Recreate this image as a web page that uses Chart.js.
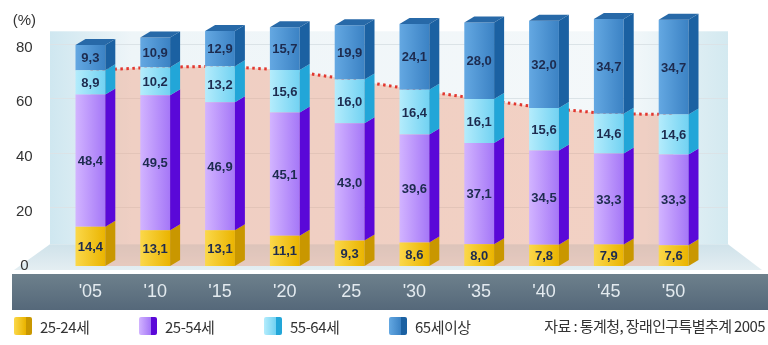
<!DOCTYPE html>
<html>
<head>
    <meta charset="utf-8">
    <title>연령별 인구 구성비 전망</title>
    <script src="https://cdn.jsdelivr.net/npm/chart.js@4.4.1/dist/chart.umd.min.js"></script>
    <style>
        body {
            margin: 0;
            background: #fff;
            font-family: "Noto Sans CJK KR", "Noto Sans", sans-serif;
        }
        .wrap {
            position: relative;
            width: 768px;
            height: 345px;
        }
        .legend-item {
            position: absolute;
            top: 315px;
            height: 22px;
            display: flex;
            align-items: center;
            font-size: 15px;
            color: #333;
            letter-spacing: -0.5px;
        }
        .legend-box {
            width: 18px;
            height: 18px;
            margin-right: 8px;
            border-radius: 2px;
        }
        .source {
            position: absolute;
            top: 315px;
            right: 3px;
            height: 22px;
            line-height: 22px;
            font-size: 15px;
            color: #333;
            letter-spacing: -0.6px;
        }
    </style>
</head>
<body>
<div class="wrap">
    <canvas id="popChart" width="768" height="345"></canvas>
    <div id="legend"></div>
    <div class="source">자료 : 통계청, 장래인구특별추계 2005</div>
</div>

<script>
    // Population share by age group (%), 2005-2050
    const years = ["'05", "'10", "'15", "'20", "'25", "'30", "'35", "'40", "'45", "'50"];
    const age1524 = [14.4, 13.1, 13.1, 11.1, 9.3, 8.6, 8.0, 7.8, 7.9, 7.6];
    const age2554 = [48.4, 49.5, 46.9, 45.1, 43.0, 39.6, 37.1, 34.5, 33.3, 33.3];
    const age5564 = [8.9, 10.2, 13.2, 15.6, 16.0, 16.4, 16.1, 15.6, 14.6, 14.6];
    const age65 = [9.3, 10.9, 12.9, 15.7, 19.9, 24.1, 28.0, 32.0, 34.7, 34.7];
    // working-age total (15-64), shown as the dotted line
    const workingAge = [71.7, 72.8, 73.2, 71.8, 68.3, 64.6, 61.2, 57.9, 55.8, 55.5];
    const yTicks = [0, 20, 40, 60, 80];
    const seriesNames = ['25-24세', '25-54세', '55-64세', '65세이상'];

    const BAR_PCT = 0.46;
    const DEPTH_X = 10;
    const DEPTH_Y = -6;

    // front (light, dark), side, top colours per series
    const palette = [
        { light: '#fbd84a', dark: '#eab400', side: '#c99700', top: '#ffe27a' },
        { light: '#d2b4ff', dark: '#a577f7', side: '#5a08d8', top: '#7a3cf0' },
        { light: '#b4ecfc', dark: '#72d2f2', side: '#22a6d8', top: '#5ccbee' },
        { light: '#64a8e2', dark: '#3b82c4', side: '#1b61a2', top: '#2769a8' }
    ];

    function frontFill(p) {
        return (c) => {
            const chart = c.chart;
            const x = chart.scales.x;
            if (!x || !chart.chartArea) return p.dark;
            const cx = x.getPixelForValue(c.dataIndex);
            const half = x.width / years.length * BAR_PCT / 2;
            const g = chart.ctx.createLinearGradient(cx - half, 0, cx + half, 0);
            g.addColorStop(0, p.light);
            g.addColorStop(1, p.dark);
            return g;
        };
    }

    // back wall, floor, grid lines and the grey axis band
    const roomPlugin = {
        id: 'room',
        beforeDraw(chart) {
            const { ctx, chartArea: a, scales } = chart;
            const y = scales.y;
            const wallL = a.left - 8, wallR = a.right + 22;
            const wallT = y.getPixelForValue(86), floorBack = y.getPixelForValue(8);
            const floorFront = a.bottom + 4;
            ctx.save();

            let g = ctx.createLinearGradient(wallL, 0, wallR, 0);
            g.addColorStop(0, '#cfe7f0');
            g.addColorStop(0.12, '#eef5f8');
            g.addColorStop(0.85, '#f4f8fa');
            g.addColorStop(1, '#d3e9f0');
            ctx.fillStyle = g;
            ctx.fillRect(wallL, wallT, wallR - wallL, floorBack - wallT);

            ctx.strokeStyle = '#dbe3e7';
            ctx.lineWidth = 1;
            yTicks.forEach(v => {
                const py = Math.round(y.getPixelForValue(v) - 4) + 0.5;
                if (py > floorBack) return;
                ctx.beginPath();
                ctx.moveTo(wallL, py);
                ctx.lineTo(wallR, py);
                ctx.stroke();
            });

            g = ctx.createLinearGradient(0, floorBack, 0, floorFront);
            g.addColorStop(0, '#cfe2ea');
            g.addColorStop(1, '#e4eef2');
            ctx.fillStyle = g;
            ctx.beginPath();
            ctx.moveTo(wallL, floorBack);
            ctx.lineTo(wallR, floorBack);
            ctx.lineTo(wallR + 34, floorFront);
            ctx.lineTo(14, floorFront);
            ctx.closePath();
            ctx.fill();

            const bandT = a.bottom + 8, bandB = a.bottom + 44;
            g = ctx.createLinearGradient(0, bandT, 0, bandB);
            g.addColorStop(0, '#6d808c');
            g.addColorStop(1, '#55687a');
            ctx.fillStyle = g;
            ctx.fillRect(12, bandT, chart.width - 12, bandB - bandT);
            ctx.restore();
        }
    };

    // side and top faces of the bars, then the value labels
    const depthPlugin = {
        id: 'depth',
        afterDatasetsDraw(chart) {
            const ctx = chart.ctx;
            const barSets = chart.data.datasets
                .map((ds, i) => ({ ds, i }))
                .filter(o => o.ds.type === 'bar');
            ctx.save();
            barSets.forEach(({ ds, i }, k) => {
                const p = palette[k];
                const meta = chart.getDatasetMeta(i);
                meta.data.forEach(bar => {
                    const { x, y, base, width } = bar.getProps(['x', 'y', 'base', 'width'], true);
                    const r = x + width / 2, l = x - width / 2;
                    ctx.fillStyle = p.side;
                    ctx.beginPath();
                    ctx.moveTo(r, y);
                    ctx.lineTo(r + DEPTH_X, y + DEPTH_Y);
                    ctx.lineTo(r + DEPTH_X, base + DEPTH_Y);
                    ctx.lineTo(r, base);
                    ctx.closePath();
                    ctx.fill();
                    if (k === barSets.length - 1) {
                        ctx.fillStyle = p.top;
                        ctx.beginPath();
                        ctx.moveTo(l, y);
                        ctx.lineTo(l + DEPTH_X, y + DEPTH_Y);
                        ctx.lineTo(r + DEPTH_X, y + DEPTH_Y);
                        ctx.lineTo(r, y);
                        ctx.closePath();
                        ctx.fill();
                    }
                });
            });

            ctx.font = 'bold 13px "Liberation Sans Narrow", "Liberation Sans", sans-serif';
            ctx.textAlign = 'center';
            ctx.textBaseline = 'middle';
            ctx.fillStyle = '#1d2b4f';
            barSets.forEach(({ ds, i }) => {
                const meta = chart.getDatasetMeta(i);
                meta.data.forEach((bar, j) => {
                    const { x, y, base } = bar.getProps(['x', 'y', 'base'], true);
                    const txt = ds.data[j].toFixed(1).replace('.', ',');
                    ctx.fillText(txt, x, (y + base) / 2 + 1);
                });
            });
            ctx.restore();
        }
    };

    const barSeries = [age1524, age2554, age5564, age65].map((data, k) => ({
        type: 'bar',
        label: seriesNames[k],
        data: data,
        stack: 'pop',
        order: 1,
        clip: false,
        backgroundColor: frontFill(palette[k]),
        borderWidth: 0,
        barPercentage: BAR_PCT,
        categoryPercentage: 1
    }));

    new Chart(document.getElementById('popChart'), {
        data: {
            labels: years,
            datasets: [
                ...barSeries,
                {
                    type: 'line',
                    label: '15-64세',
                    data: workingAge,
                    stack: 'line',
                    order: 5,
                    borderColor: '#e2372f',
                    borderWidth: 3,
                    borderDash: [2.5, 3.5],
                    backgroundColor: 'rgba(240, 150, 115, 0.4)',
                    fill: 'origin',
                    pointRadius: 0,
                    tension: 0
                }
            ]
        },
        options: {
            responsive: false,
            animation: false,
            layout: { padding: { top: 4, right: 62, left: 0, bottom: 0 } },
            plugins: {
                legend: { display: false },
                tooltip: { enabled: false }
            },
            scales: {
                x: {
                    stacked: true,
                    grid: { display: false, drawTicks: false },
                    border: { display: false },
                    ticks: {
                        color: '#e3eaef',
                        padding: 15,
                        font: { family: 'Liberation Sans', size: 18 }
                    },
                    afterFit: (s) => { s.height = 79; }
                },
                y: {
                    stacked: true,
                    min: 0,
                    max: 96,
                    grid: { display: false, drawTicks: false },
                    border: { display: false },
                    afterBuildTicks: (s) => {
                        s.ticks = [...yTicks, 90].map(v => ({ value: v }));
                    },
                    ticks: {
                        color: '#333',
                        padding: 22,
                        crossAlign: 'center',
                        font: { family: 'Liberation Sans', size: 15 },
                        callback: (v) => v === 90 ? '(%)' : v
                    },
                    afterFit: (s) => {
                        s.width = 58;
                        s.paddingTop = 0;
                        s.paddingBottom = 0;
                    }
                }
            }
        },
        plugins: [roomPlugin, depthPlugin]
    });

    // legend row under the axis band
    const legend = document.getElementById('legend');
    seriesNames.forEach((name, k) => {
        const p = palette[k];
        const item = document.createElement('div');
        item.className = 'legend-item';
        item.style.left = (14 + k * 125) + 'px';
        const box = document.createElement('span');
        box.className = 'legend-box';
        box.style.background = `linear-gradient(90deg, ${p.light} 0%, ${p.dark} 65%, ${p.side} 66%, ${p.side} 100%)`;
        item.appendChild(box);
        item.appendChild(document.createTextNode(name));
        legend.appendChild(item);
    });
</script>
</body>
</html>
